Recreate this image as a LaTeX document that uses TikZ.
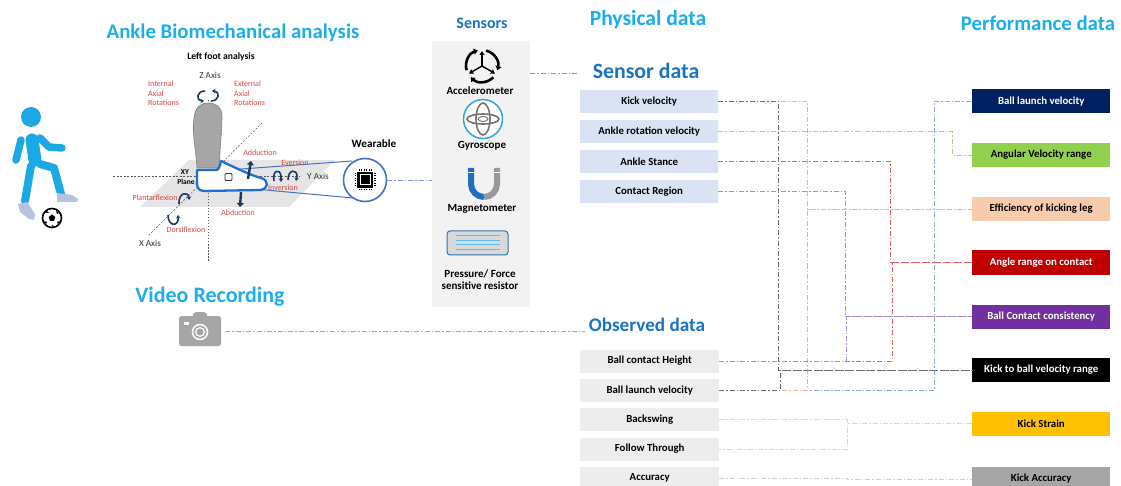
\documentclass[tikz,border=0pt]{standalone}
\usepackage{fontspec}
\setmainfont{Carlito}
\usetikzlibrary{arrows.meta,calc}

\definecolor{titlecyan}{HTML}{1BAEEA}
\definecolor{headblue}{HTML}{1B73C4}
\definecolor{sboxfill}{HTML}{DAE3F3}
\definecolor{oboxfill}{HTML}{EDEDED}
\definecolor{panelgrey}{HTML}{F2F2F2}
\definecolor{pcyan}{HTML}{1BA9E6}
\definecolor{shoegrey}{HTML}{B4C4E0}
\definecolor{navyarrow}{HTML}{1F3864}
\definecolor{lblred}{HTML}{D64545}
\definecolor{shoeblue}{HTML}{1F6FCF}
\definecolor{callblue}{HTML}{4472C4}
\definecolor{gyrocyan}{HTML}{2AA7DF}
\definecolor{magblue}{HTML}{1F6FC0}
\definecolor{pblue}{HTML}{2E75B6}
\definecolor{plinecyan}{HTML}{5BC0EB}
\definecolor{camgrey}{HTML}{A6A6A6}
% performance box fills
\definecolor{pnavy}{HTML}{002060}
\definecolor{pgreen}{HTML}{92D050}
\definecolor{ppeach}{HTML}{F8CBAD}
\definecolor{pred}{HTML}{C00000}
\definecolor{ppurple}{HTML}{7030A0}
\definecolor{pyellow}{HTML}{FFC000}
\definecolor{pgrey}{HTML}{A6A6A6}
% connector colours
\definecolor{cgrey}{HTML}{6E6E6E}
\definecolor{corange}{HTML}{F4B183}
\definecolor{cgreen}{HTML}{A9D18E}
\definecolor{cred}{HTML}{E06060}
\definecolor{cpurple}{HTML}{A98BD0}
\definecolor{cblue}{HTML}{8FAADC}
\definecolor{cyellow}{HTML}{FFD966}
\definecolor{clight}{HTML}{D0D0D0}

\begin{document}
\begin{tikzpicture}[x=1pt,y=-1pt,
  databox/.style={minimum width=138pt, minimum height=23pt, inner sep=0pt, anchor=west,
    font=\fontsize{10.8}{12}\selectfont\bfseries},
  sensbox/.style={databox, fill=sboxfill},
  obsbox/.style={databox, fill=oboxfill, minimum width=139pt},
  perfbox/.style={databox, minimum height=24pt},
  conn/.style={line width=0.9pt, dash pattern=on 5pt off 2pt on 1.5pt off 2pt},
  bigtitle/.style={font=\fontsize{20.8}{23}\selectfont\bfseries, text=titlecyan, inner sep=0pt},
  subtitle/.style={font=\fontsize{21.8}{24}\selectfont\bfseries, text=headblue, inner sep=0pt},
  redlbl/.style={font=\fontsize{8}{9}\selectfont, text=lblred, inner sep=0pt},
  blklbl/.style={font=\fontsize{9.2}{10}\selectfont, text=black!80, inner sep=0pt},
  senslbl/.style={font=\fontsize{11}{12}\selectfont\bfseries, inner sep=0pt},
  navyarr/.style={navyarrow, line width=1.6pt, -{Stealth[length=3.5pt,width=4.5pt]}},
  fatarr/.style={navyarrow, line width=2.4pt, -{Triangle[length=4pt,width=7pt]}},
]
\useasboundingbox (0,0) rectangle (1121,486);

% ---------------- titles ----------------
\node[bigtitle] (tab) at (233,33) {Ankle Biomechanical analysis};
\node[subtitle, font=\fontsize{16}{18}\selectfont\bfseries] (sens) at (482,23) {Sensors};
\node[bigtitle, font=\fontsize{21.6}{24}\selectfont\bfseries] (phys) at (648,20) {Physical data};
\node[bigtitle] (perf) at (1038,23) {Performance data};
\node[subtitle] (sd) at (646,71) {Sensor data};
\node[subtitle, font=\fontsize{19.2}{22}\selectfont\bfseries] (od) at (647,325) {Observed data};
\node[bigtitle, font=\fontsize{22}{24}\selectfont\bfseries] (vr) at (210,297) {Video Recording};

% ---------------- player icon ----------------
\fill[pcyan] (31,117) circle (10);
\draw[pcyan, line width=13pt, line cap=round] (32,140) -- (35,160);
\draw[pcyan, line width=7.5pt, line cap=round, line join=round] (21,140) -- (16,160);
\draw[pcyan, line width=7.5pt, line cap=round, line join=round] (40,138) -- (49,147) -- (62,148);
\draw[pcyan, line width=8pt, line cap=round, line join=round] (40,164) -- (54,168) -- (61,194);
\draw[pcyan, line width=8pt, line cap=round, line join=round] (31,166) -- (25,201);
\fill[shoegrey] (57,193) -- (72,195) -- (78,199) -- (77,202) -- (57,202) -- cycle;
\fill[shoegrey] (18,204) -- (27,202) -- (35,214) -- (34,220) -- (29,219) -- (20,212) -- cycle;
% ball
\node[circle, draw=black, line width=1.6pt, fill=white, minimum size=19pt, inner sep=0pt] (ball) at (52,218) {};
\fill[black] (52,214.5) -- (55.3,217) -- (54,220.8) -- (50,220.8) -- (48.7,217) -- cycle;
\fill[black] (45,213) -- (47,211) -- (49,213) -- cycle;
\fill[black] (56,211) -- (59,213) -- (57,214) -- cycle;
\fill[black] (44,221) -- (46,224) -- (47,222) -- cycle;
\fill[black] (58,224) -- (60,221) -- (57,222) -- cycle;
\fill[black] (51,226.5) -- (54,226.5) -- (52.5,225) -- cycle;

% ---------------- foot analysis sketch ----------------
\node[font=\fontsize{9.6}{11}\selectfont\bfseries, inner sep=0pt] (lfa) at (221,57) {Left foot analysis};
\node[blklbl] (zax) at (210,75) {Z Axis};
\node[redlbl, align=left, anchor=north west] (iar) at (148,81) {Internal\\[0.5pt]Axial\\[0.5pt]Rotations};
\node[redlbl, align=left, anchor=north west] (ear) at (234,81) {External\\[0.5pt]Axial\\[0.5pt]Rotations};

% XY plane
\fill[black!10] (140,207) -- (189,160) -- (335,160) -- (289,207) -- cycle;
% axes
\draw[black!65, line width=0.5pt, dash pattern=on 2pt off 1.5pt] (113,176) -- (300,176);
\draw[black!65, line width=0.5pt, dash pattern=on 2pt off 1.5pt] (262,123) -- (148,236);
\draw[black!65, line width=0.5pt, dash pattern=on 1.5pt off 1.5pt] (208,100) -- (208,262);

% leg
\filldraw[fill=black!35, draw=black!50, line width=0.6pt]
  (197,168) .. controls (196,150) and (192,135) .. (194,118)
  .. controls (195,108) and (200,103) .. (208,103)
  .. controls (216,103) and (222,107) .. (222,116)
  .. controls (222,135) and (219,150) .. (220,168) -- cycle;

% wearable call-out lines
\draw[callblue, line width=1pt] (200,172) -- (352,161);
\draw[callblue, line width=1pt] (200,184) -- (353,198);

% shoe
\filldraw[fill=white, draw=shoeblue, line width=2.3pt, line join=round]
  (197,170) -- (217,170) .. controls (220,168) and (220,164) .. (221,161)
  .. controls (236,168) and (250,175) .. (261,178)
  .. controls (269,180) and (269,189) .. (260,190)
  -- (204,191) .. controls (198,191) and (196,186) .. (197,180) -- cycle;
\draw[black!80, line width=0.9pt, rounded corners=1pt] (225,173.5) rectangle (232,180.5);

% rotation arrows
\draw[navyarr] (205,91) .. controls (196,91) and (196,101) .. (204,101);
\draw[navyarr] (211,101) .. controls (220,101) and (220,91) .. (212,91);
\draw[fatarr] (248,179) -- (251,161);
\draw[fatarr] (241,192) -- (240,207);
\draw[navyarr] (274,181) .. controls (272,170) and (280,168) .. (281,176) -- (281,182);
\draw[navyarr] (288,180) .. controls (288,169) and (297,169) .. (297,176) -- (296,181);
\draw[navyarr] (179,204) .. controls (178,192) and (189,191) .. (189,200);
\draw[navyarr] (168,215) .. controls (168,227) and (179,227) .. (178,215);

% labels of the sketch
\node[redlbl] (add) at (260,153) {Adduction};
\node[redlbl] (eve) at (295,163) {Eversion};
\node[redlbl] (inv) at (283,188) {Inversion};
\node[redlbl] (abd) at (238,213) {Abduction};
\node[redlbl] (pla) at (155,198) {Plantarflexion};
\node[redlbl] (dor) at (186,230) {Dorsiflexion};
\node[blklbl] (yax) at (318,176) {Y Axis};
\node[blklbl] (xax) at (150,243) {X Axis};
\node[font=\fontsize{7.5}{8}\selectfont\bfseries, inner sep=0pt] (xy) at (185,172) {XY};
\node[font=\fontsize{7.5}{8}\selectfont\bfseries, inner sep=0pt] (pln) at (186,182) {Plane};

% wearable
\node[font=\fontsize{11.2}{12}\selectfont\bfseries, inner sep=0pt] (wlbl) at (374,144) {Wearable};
\node[circle, draw=callblue, line width=1.6pt, fill=white, minimum size=43pt, inner sep=0pt] (wear) at (365,180) {};
\fill[black] (357,172) rectangle (373,188);
\draw[white, line width=1pt] (360,175) rectangle (370,185);
\fill[black] (362,177) rectangle (368,183);
\foreach \p in {359,361.5,364,366.5,369,371.5} {
  \draw[black, line width=0.8pt] (\p,169.5) -- (\p,171);
  \draw[black, line width=0.8pt] (\p,189) -- (\p,190.5);
  \draw[black, line width=0.8pt] (354.5,\p-186) -- (356,\p-186);
  \draw[black, line width=0.8pt] (374,\p-186) -- (375.5,\p-186);
}

% ---------------- sensor panel ----------------
\node[fill=panelgrey, minimum width=98pt, minimum height=266pt, inner sep=0pt, anchor=north west] (panel) at (432,41) {};

% accelerometer
\foreach \a in {270,150,30} \draw[black, line width=1.4pt, -{Triangle[length=4pt,width=5pt]}] (482,66) -- ++(\a:15);
\draw[black, line width=2.6pt, -{Triangle[length=4pt,width=6pt]}] (482,66) ++(45:16) arc[start angle=45, end angle=135, radius=16];
\draw[black, line width=2.6pt, -{Triangle[length=4pt,width=6pt]}] (482,66) ++(165:16) arc[start angle=165, end angle=255, radius=16];
\draw[black, line width=2.6pt, -{Triangle[length=4pt,width=6pt]}] (482,66) ++(285:16) arc[start angle=285, end angle=375, radius=16];
\node[senslbl] (acc) at (480,91) {Accelerometer};

% gyroscope
\node[circle, draw=gyrocyan, line width=1.5pt, fill=white, minimum size=39pt, inner sep=0pt] (gyro) at (483,119) {};
\draw[black!55, line width=1.6pt] (483,119) ellipse [x radius=7, y radius=16];
\draw[black!55, line width=1.6pt] (483,119) ellipse [x radius=16, y radius=5];
\draw[black!55, line width=1pt] (483,119) ellipse [x radius=5, y radius=2.5];
\node[senslbl] (gyl) at (482,146) {Gyroscope};

% magnetometer
\draw[magblue, line width=6pt] (471,168) -- (471,184) arc[start angle=180, end angle=90, radius=13];
\draw[black!40, line width=6pt] (484,197) arc[start angle=90, end angle=0, radius=13] -- (497,168);
\draw[white, line width=1pt] (467,173) -- (475,173);
\draw[white, line width=1pt] (493,173) -- (501,173);
\node[senslbl] (mag) at (482,209) {Magnetometer};

% pressure / force sensor
\node[draw=pblue, fill=black!15, line width=1pt, rounded corners=3pt, minimum width=61pt, minimum height=24pt, inner sep=0pt] (fsr) at (477.5,243) {};
\foreach \yy in {236,240.5,245,249.5} \draw[plinecyan, line width=1pt] (456,\yy) -- (500,\yy);
\node[senslbl, align=center] (fsrl) at (480,279.5) {Pressure/ Force\\[0.5pt]sensitive resistor};

% camera
\fill[camgrey, rounded corners=2pt] (192,316) -- (194,312) -- (206,312) -- (208,316) -- cycle;
\node[fill=camgrey, rounded corners=2.5pt, minimum width=42pt, minimum height=30pt, inner sep=0pt] (cam) at (200,331) {};
\fill[white] (200,332) circle (8.3);
\fill[camgrey] (200,332) circle (6.6);
\fill[white] (200,332) circle (5);
\fill[camgrey] (200,332) circle (3.6);
\fill[white] (183.5,322) rectangle (189,325);

% ---------------- data boxes ----------------
\node[sensbox] (kv)  at (580,101.5) {Kick velocity};
\node[sensbox] (arv) at (580,131.5) {Ankle rotation velocity};
\node[sensbox] (ast) at (580,161.5) {Ankle Stance};
\node[sensbox] (cr)  at (580,191.5) {Contact Region};

\node[obsbox] (bch) at (580,361) {Ball contact Height};
\node[obsbox] (blo) at (580,390.5) {Ball launch velocity};
\node[obsbox] (bsw) at (580,419.5) {Backswing};
\node[obsbox] (ft)  at (580,449) {Follow Through};
\node[obsbox] (acy) at (580,478) {Accuracy};

\node[perfbox, fill=pnavy, text=white] (blp) at (972,101.5) {Ball launch velocity};
\node[perfbox, fill=pgreen]            (avr) at (972,155)   {Angular Velocity range};
\node[perfbox, fill=ppeach]            (eff) at (972,209)   {Efficiency of kicking leg};
\node[perfbox, fill=pred, text=white]  (arc) at (972,262.5) {Angle range on contact};
\node[perfbox, fill=ppurple, text=white] (bcc) at (972,316.5) {Ball Contact consistency};
\node[perfbox, fill=black, text=white] (kbv) at (972,370)   {Kick to ball velocity range};
\node[perfbox, fill=pyellow]           (kst) at (972,423.5) {Kick Strain};
\node[perfbox, fill=pgrey]             (kac) at (972,479)   {Kick Accuracy};

% ---------------- connectors ----------------
\draw[conn, callblue!70] (wear.east) -- (wear.east -| panel.west);
\draw[conn, callblue!70] (panel.east |- 0,73) -- (577,73);
\draw[conn, cblue] (cam.east) ++(4,0) -- (585,331);

\draw[conn, cblue]   (blo.east) -- ++(215,0) |- (blp.west);
\draw[conn, corange] (kv.east) -- ++(89,0) |- (eff.west);
\draw[conn, corange] (blo.east) -- ++(88,0) |- (eff.west);
\draw[conn, cgrey]   (kv.east) -- ++(60,0) |- (kbv.west);
\draw[conn, cgrey]   (blo.east) -- ++(61,0) |- (kbv.west);
\draw[conn, cgreen]  (arv.east) -- ++(234,0) |- (avr.west);
\draw[conn, cred]    (ast.east) -- ++(172,0) |- (arc.west);
\draw[conn, cred]    (bch.east) -- ++(173,0) |- (arc.west);
\draw[conn, cpurple] (cr.east) -- ++(127,0) |- (bcc.west);
\draw[conn, cpurple] (bch.east) -- ++(127,0) |- (bcc.west);
\draw[conn, cyellow] (bsw.east) -- ++(128,0) |- (ft.east);
\draw[conn, cyellow] (kst.west) -- ++(-126,0);
\draw[conn, clight]  (acy.east) -- ++(128,0) |- (kac.west);

\end{tikzpicture}
\end{document}
